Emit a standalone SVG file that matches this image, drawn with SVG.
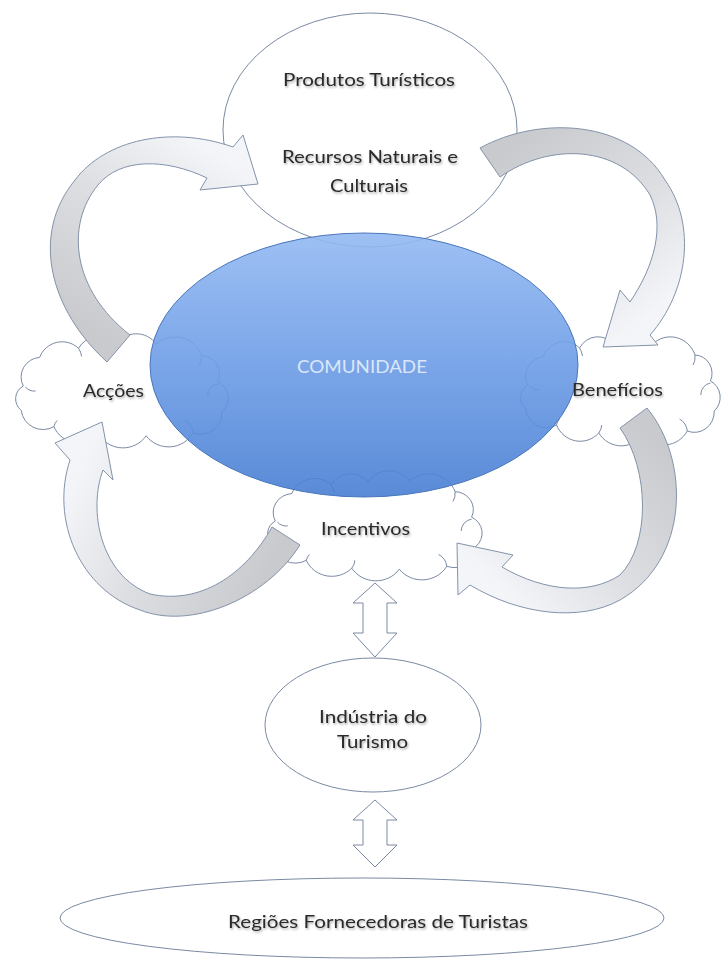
<svg xmlns="http://www.w3.org/2000/svg" xmlns:xlink="http://www.w3.org/1999/xlink" width="721" height="961" viewBox="0 0 721 961">
<style>
.shape{fill:#ffffff;stroke:#7a8aa3;stroke-width:1}
.cloud{fill:#ffffff;stroke:#7a8aa3;stroke-width:1;vector-effect:non-scaling-stroke}
.cdet{fill:none;stroke:#7a8aa3;stroke-width:1;vector-effect:non-scaling-stroke}
.arrow{stroke:#8393aa;stroke-width:1;stroke-linejoin:round}
.dbl{fill:#ffffff;stroke:#7a8aa3;stroke-width:1;stroke-linejoin:miter}
.lbl{font-family:Lato,"Liberation Sans",sans-serif;font-size:18px;fill:#2a2a2a;text-anchor:middle;filter:url(#tshadow)}
.lbl-w{font-family:Lato,"Liberation Sans",sans-serif;font-size:18px;fill:#dbe7f8;text-anchor:middle}
</style>
<defs>
<filter id="tshadow" x="-10%" y="-40%" width="120%" height="180%">
<feDropShadow dx="1" dy="1.5" stdDeviation="1.1" flood-color="#000000" flood-opacity="0.35"/>
</filter>
<linearGradient id="blue" x1="0" y1="0" x2="0" y2="1">
<stop offset="0" stop-color="#93b9f2"/>
<stop offset="0.5" stop-color="#6c9ce6"/>
<stop offset="1" stop-color="#487ed3"/>
</linearGradient>
<linearGradient id="g1" gradientUnits="userSpaceOnUse" x1="118" y1="350" x2="235" y2="165">
<stop offset="0" stop-color="#c9cacd"/><stop offset="0.55" stop-color="#dcdee2"/><stop offset="1" stop-color="#f3f5f9"/>
</linearGradient>
<linearGradient id="g2" gradientUnits="userSpaceOnUse" x1="490" y1="160" x2="625" y2="335">
<stop offset="0" stop-color="#c9cacd"/><stop offset="0.55" stop-color="#dcdee2"/><stop offset="1" stop-color="#f3f5f9"/>
</linearGradient>
<linearGradient id="g3" gradientUnits="userSpaceOnUse" x1="635" y1="418" x2="480" y2="570">
<stop offset="0" stop-color="#c9cacd"/><stop offset="0.55" stop-color="#dcdee2"/><stop offset="1" stop-color="#f3f5f9"/>
</linearGradient>
<linearGradient id="g4" gradientUnits="userSpaceOnUse" x1="286" y1="536" x2="90" y2="445">
<stop offset="0" stop-color="#c9cacd"/><stop offset="0.55" stop-color="#dcdee2"/><stop offset="1" stop-color="#f3f5f9"/>
</linearGradient>
<g id="cloudShape">
<path class="cloud" d="M10,52 A19.3,19.3 0 0 1 26,24 A23.4,23.4 0 0 1 64,15 A21.7,21.7 0 0 1 100,12 A24,24 0 0 1 140,11 A27.2,27.2 0 0 1 184,22 A18.3,18.3 0 0 1 200,48 A18.2,18.2 0 0 1 204,78 A20.6,20.6 0 0 1 176,98 A27.7,27.7 0 0 1 130,101 A27.6,27.6 0 0 1 84,100 A26.8,26.8 0 0 1 40,92 A21.5,21.5 0 0 1 8,76 A14.5,14.5 0 0 1 10,52 Z"/>
<path class="cdet" d="M22,57 A12,12 0 0 1 12,53 M64,15 A18,18 0 0 1 67,23 M184,22 A16,16 0 0 1 182,32 M190,62 A12,12 0 0 1 200,50 M176,98 A16,16 0 0 0 168,86 M84,100 A14,14 0 0 0 87,92 M40,92 A12,12 0 0 1 43,86"/>
</g>
</defs>

<g id="node-produtos">
<ellipse class="shape" cx="370" cy="130" rx="147" ry="117"/>
</g>

<g id="node-accoes-cloud">
<use xlink:href="#cloudShape" transform="translate(13,333) scale(1.024,1.018)"/>
</g>
<g id="node-beneficios-cloud">
<use xlink:href="#cloudShape" transform="translate(518,333) scale(0.962,1.0)"/>
</g>
<g id="node-incentivos-cloud">
<use xlink:href="#cloudShape" transform="translate(265,470) scale(1.033,0.982)"/>
</g>

<g id="node-comunidade">
<ellipse cx="364" cy="365" rx="214" ry="132" fill="url(#blue)" fill-opacity="0.9" stroke="#4a77bb" stroke-width="1"/>
<text class="lbl-w" x="362" y="373" textLength="130" lengthAdjust="spacingAndGlyphs">COMUNIDADE</text>
</g>

<g id="node-industria">
<ellipse class="shape" cx="373" cy="725" rx="108" ry="67"/>
<text class="lbl" x="373" y="723" textLength="108" lengthAdjust="spacingAndGlyphs">Indústria do</text>
<text class="lbl" x="372.5" y="748" textLength="71" lengthAdjust="spacingAndGlyphs">Turismo</text>
</g>

<g id="node-regioes">
<ellipse class="shape" cx="362" cy="918" rx="302" ry="40"/>
<text class="lbl" x="378" y="928" textLength="300" lengthAdjust="spacingAndGlyphs">Regiões Fornecedoras de Turistas</text>
</g>

<g id="connectors">
<path class="arrow" fill="url(#g1)" d="M107,362 C50,310 30,235 75,180 C105,140 170,125 233,147 L243,135 L258,184 L200,190 L207,178 C165,158 120,158 98,185 C65,225 72,290 130,335 Z"/>
<path class="arrow" fill="url(#g2)" d="M480,148 C540,115 630,120 665,180 C697,225 688,292 650,335 L658,345 L603,347 L620,290 L630,302 C655,265 665,225 650,195 C620,145 550,142 500,177 Z"/>
<path class="arrow" fill="url(#g3)" d="M647,408 C690,460 690,560 620,600 C580,622 520,615 470,585 L458,595 L457,543 L513,555 L502,567 C545,592 590,595 620,575 C650,545 650,470 620,428 Z"/>
<path class="arrow" fill="url(#g4)" d="M300,545 C265,600 190,630 140,610 C80,590 50,520 70,460 L55,443 L102,422 L113,480 L103,470 C88,510 100,575 150,594 C200,605 245,575 272,527 Z"/>
<path class="dbl" d="M375,583 L397,603 L387,603 L387,633 L397,633 L375,657 L353,633 L363,633 L363,603 L353,603 Z"/>
<path class="dbl" d="M375,800 L397,820 L387,820 L387,845 L397,845 L375,867 L353,845 L363,845 L363,820 L353,820 Z"/>
</g>

<g id="labels">
<text class="lbl" x="369" y="86" textLength="172" lengthAdjust="spacingAndGlyphs">Produtos Turísticos</text>
<text class="lbl" x="370" y="163" textLength="176" lengthAdjust="spacingAndGlyphs">Recursos Naturais e</text>
<text class="lbl" x="369" y="192" textLength="78" lengthAdjust="spacingAndGlyphs">Culturais</text>
<text class="lbl" x="113.5" y="397" textLength="61" lengthAdjust="spacingAndGlyphs">Acções</text>
<text class="lbl" x="617.5" y="396" textLength="91" lengthAdjust="spacingAndGlyphs">Benefícios</text>
<text class="lbl" x="365.5" y="535" textLength="89" lengthAdjust="spacingAndGlyphs">Incentivos</text>
</g>
</svg>
